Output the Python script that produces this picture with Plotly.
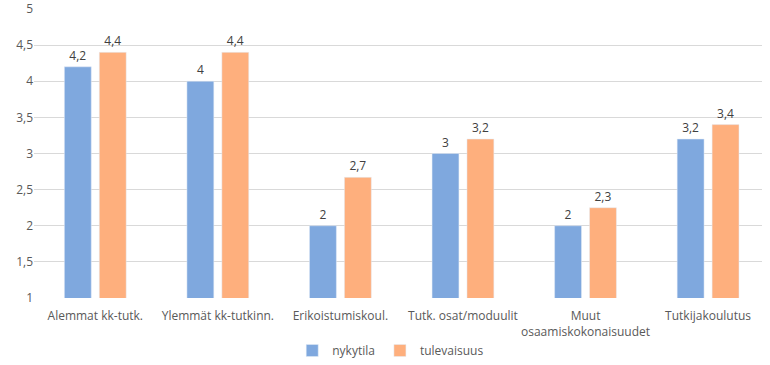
import plotly.graph_objects as go

categories = ["Alemmat kk-tutk.", "Ylemmät kk-tutkinn.", "Erikoistumiskoul.",
              "Tutk. osat/moduulit", "Muut<br>osaamiskokonaisuudet", "Tutkijakoulutus"]
nykytila = [4.2, 4.0, 2.0, 3.0, 2.0, 3.2]
nykytila_labels = ["4,2", "4", "2", "3", "2", "3,2"]
tulevaisuus = [4.4, 4.4, 2.67, 3.2, 2.25, 3.4]
tulevaisuus_labels = ["4,4", "4,4", "2,7", "3,2", "2,3", "3,4"]
y_ticks = [1, 1.5, 2, 2.5, 3, 3.5, 4, 4.5, 5]
y_tick_labels = ["1", "1,5", "2", "2,5", "3", "3,5", "4", "4,5", "5"]

font_family = "Open Sans, Liberation Sans, sans-serif"

fig = go.Figure()
fig.add_trace(go.Bar(
    name="nykytila", x=categories, y=nykytila, text=nykytila_labels,
    textposition="outside", marker_color="#7FA8DE", cliponaxis=False,
    textfont=dict(size=12, color="#404040"),
))
fig.add_trace(go.Bar(
    name="tulevaisuus", x=categories, y=tulevaisuus, text=tulevaisuus_labels,
    textposition="outside", marker_color="#FEAF7D", cliponaxis=False,
    textfont=dict(size=12, color="#404040"),
))

fig.update_layout(
    width=770, height=365,
    margin=dict(l=34, r=8, t=9, b=67, autoexpand=False),
    paper_bgcolor="white", plot_bgcolor="white",
    barmode="group", bargap=0.43, bargroupgap=0.23,
    font=dict(family=font_family, size=12, color="#595959"),
    showlegend=True,
    legend=dict(orientation="h", x=0.49, xanchor="center",
                yref="container", y=0.0, yanchor="bottom",
                font=dict(size=12, color="#595959"), itemwidth=30),
)
fig.update_xaxes(range=[-0.5, 5.44], showgrid=False, showline=False, ticks="",
                 automargin=False, ticklabelstandoff=9,
                 tickfont=dict(size=12, color="#595959"))
fig.update_yaxes(range=[1, 5], tickvals=y_ticks, ticktext=y_tick_labels,
                 showgrid=True, gridcolor="#D9D9D9", gridwidth=1, zeroline=False,
                 automargin=False,
                 showline=False, ticks="", tickfont=dict(size=12, color="#595959"))

fig.write_html("out.html", config={"displayModeBar": False},
               post_script="document.body.style.margin='0';")
